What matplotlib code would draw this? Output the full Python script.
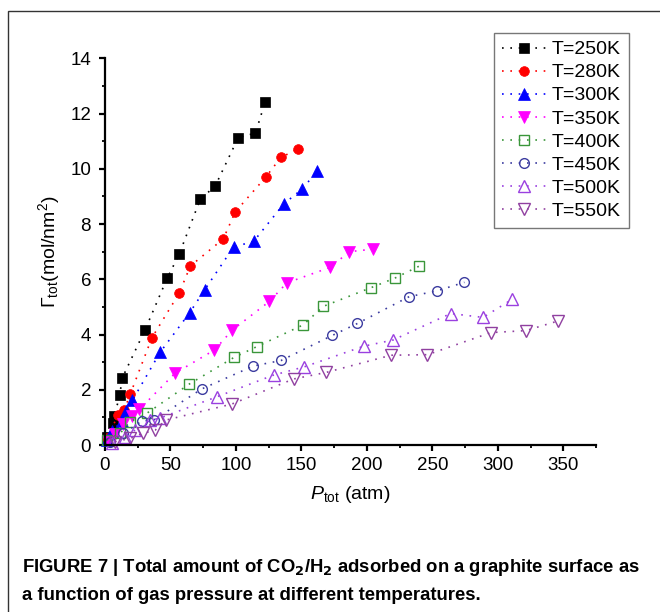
import matplotlib
matplotlib.use("Agg")
import matplotlib.pyplot as plt
from matplotlib.patches import Rectangle

plt.rcParams['font.family'] = ['Liberation Sans', 'DejaVu Sans']
plt.rcParams['mathtext.fontset'] = 'custom'
plt.rcParams['mathtext.rm'] = 'Liberation Sans'
plt.rcParams['mathtext.it'] = 'Liberation Sans:italic'

# --- data: P_tot (atm) vs Gamma_tot (mol/nm^2) ---
labels = ['T=250K', 'T=280K', 'T=300K', 'T=350K', 'T=400K', 'T=450K', 'T=500K', 'T=550K']

p250 = [1.3, 5.9, 7.1, 11.3, 13.0, 30.5, 47.4, 56.6, 72.7, 84.2, 101.8, 114.9, 122.3]
g250 = [0.30, 0.81, 1.05, 1.80, 2.41, 4.16, 6.03, 6.90, 8.89, 9.38, 11.13, 11.29, 12.42]

p280 = [1.3, 10.2, 14.5, 19.2, 35.8, 56.6, 65.2, 90.3, 99.5, 122.6, 134.3, 147.6]
g280 = [0.25, 1.09, 1.25, 1.83, 3.88, 5.49, 6.48, 7.46, 8.44, 9.69, 10.41, 10.72]

p300 = [1.3, 5.6, 12.8, 16.1, 21.0, 42.0, 64.7, 76.0, 98.2, 113.5, 136.6, 150.4, 162.2]
g300 = [0.18, 0.51, 0.87, 1.22, 1.62, 3.35, 4.79, 5.61, 7.17, 7.37, 8.73, 9.26, 9.92]

p350 = [2.0, 7.7, 14.0, 21.0, 26.3, 53.5, 83.6, 97.2, 125.6, 138.9, 171.9, 186.7, 204.7]
g350 = [0.15, 0.40, 0.75, 1.06, 1.29, 2.60, 3.44, 4.16, 5.20, 5.87, 6.43, 7.00, 7.09]

p400 = [1.3, 11.5, 19.2, 32.0, 64.5, 98.5, 115.9, 151.4, 166.8, 203.4, 221.3, 239.7]
g400 = [0.18, 0.42, 0.84, 1.15, 2.21, 3.17, 3.56, 4.35, 5.02, 5.70, 6.04, 6.47]

p450 = [3.8, 14.1, 28.2, 37.1, 73.9, 113.3, 134.5, 173.7, 192.8, 232.3, 253.5, 274.5]
g450 = [0.12, 0.42, 0.87, 0.90, 2.03, 2.86, 3.06, 3.97, 4.40, 5.37, 5.58, 5.89]

p500 = [5.1, 15.3, 23.0, 34.5, 41.7, 85.7, 128.7, 152.2, 197.8, 220.0, 264.0, 288.8, 310.8]
g500 = [0.08, 0.30, 0.54, 0.90, 0.97, 1.75, 2.53, 2.83, 3.58, 3.80, 4.76, 4.62, 5.27]

p550 = [7.7, 19.2, 28.9, 38.4, 46.3, 96.7, 144.0, 169.1, 218.5, 246.3, 294.7, 321.3, 346.1]
g550 = [0.12, 0.24, 0.42, 0.54, 0.90, 1.48, 2.39, 2.63, 3.25, 3.27, 4.07, 4.14, 4.49]

xs = [p250, p280, p300, p350, p400, p450, p500, p550]
ys = [g250, g280, g300, g350, g400, g450, g500, g550]

# marker, colour, filled?, size
styles = [
    ('s', 'black', True, 6.5),
    ('o', '#ff0000', True, 7),
    ('^', '#0000ff', True, 8),
    ('v', '#ff00ff', True, 8),
    ('s', '#3a963a', False, 6.5),
    ('o', '#3c3ca0', False, 7),
    ('^', '#9a40e0', False, 8),
    ('v', '#9040a0', False, 8),
]

fig = plt.figure(figsize=(6.6, 6.12), dpi=100)
ax = fig.add_axes([105 / 660, 1 - 445 / 612, 491 / 660, (445 - 58.3) / 612])

for x, y, lab, (m, c, filled, ms) in zip(xs, ys, labels, styles):
    ax.plot(x, y, linestyle=(0, (1, 4)), linewidth=1.2, color=c,
            marker=m, markersize=ms,
            markerfacecolor=c if filled else 'none',
            markeredgecolor=c, markeredgewidth=1.0 if not filled else 0.5,
            label=lab, clip_on=False)

ax.set_xlim(0, 375)
ax.set_ylim(0, 14)
ax.set_xticks(range(0, 351, 50))
ax.set_xticks(range(25, 376, 50), minor=True)
ax.set_yticks(range(0, 15, 2))
ax.set_yticks(range(1, 14, 2), minor=True)

for s in ['top', 'right']:
    ax.spines[s].set_visible(False)
for s in ['left', 'bottom']:
    ax.spines[s].set_linewidth(1.6)

ax.tick_params(which='major', direction='out', length=4, width=1.6, labelsize=13.5)
ax.tick_params(axis='y', which='major', pad=6)
ax.tick_params(axis='x', which='major', pad=5)
ax.tick_params(which='minor', direction='out', length=2.5, width=1.3)

ax.set_xlabel(r'$P_{\rm tot}$ (atm)', fontsize=14, labelpad=7)
ax.set_ylabel(r'$\Gamma_{\rm tot}$(mol/nm$^2$)', fontsize=14, labelpad=6)

leg = ax.legend(loc='upper right', bbox_to_anchor=(629 / 660, 1 - 33 / 612),
                bbox_transform=fig.transFigure, fontsize=14, frameon=True,
                fancybox=False, borderaxespad=0, handlelength=2.3,
                handletextpad=0.3, labelspacing=0.28, borderpad=0.4,
                numpoints=1)
leg.get_frame().set_edgecolor('#555555')
leg.get_frame().set_linewidth(1.0)

# outer frame of the figure panel
fig.patches.append(Rectangle((8 / 660, -0.1), 1.2, 1.1 - 11 / 612,
                             transform=fig.transFigure, fill=False,
                             edgecolor='#333333', linewidth=1.0))

cap1 = r'FIGURE 7 | Total amount of CO$_\mathbf{2}$/H$_\mathbf{2}$ adsorbed on a graphite surface as'
cap2 = 'a function of gas pressure at different temperatures.'
fig.text(22 / 660, 1 - 568 / 612, cap1, fontsize=13.3, fontweight='bold', va='center')
fig.text(22 / 660, 1 - 596 / 612, cap2, fontsize=13.3, fontweight='bold', va='center')

fig.savefig('out.png', dpi=100)
